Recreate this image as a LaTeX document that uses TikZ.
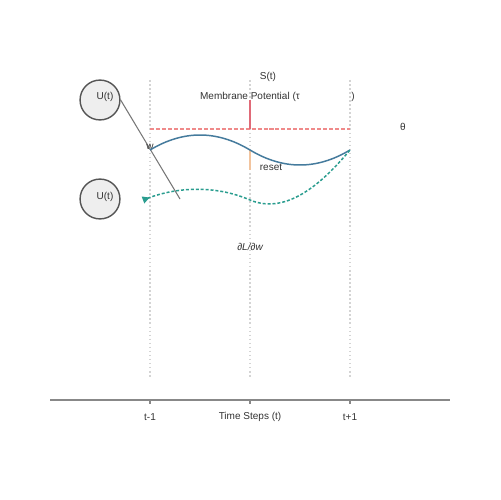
\documentclass[tikz,border=0pt]{standalone}
\usepackage{fontspec}
\setmainfont{Liberation Sans}
\usetikzlibrary{arrows.meta}
\definecolor{txt}{HTML}{333333}
\definecolor{axisgray}{HTML}{888888}
\definecolor{gridgray}{HTML}{D4D4D4}
\definecolor{potblue}{HTML}{457B9D}
\definecolor{gradteal}{HTML}{2A9D8F}
\definecolor{thred}{HTML}{EF8A8A}
\definecolor{spikered}{HTML}{E06A78}
\definecolor{resetor}{HTML}{F2C49E}
\definecolor{neuronfill}{HTML}{EEEEEE}
\definecolor{neuronline}{HTML}{555555}
\definecolor{wline}{HTML}{777777}
\tikzset{
  lbl/.style={text=txt, font=\fontsize{5.7}{6.8}\selectfont, inner sep=0pt},
  neuron/.style={circle, draw=neuronline, fill=neuronfill, line width=0.8pt, minimum size=22.7pt, inner sep=0pt},
  grid/.style={draw=gridgray, line width=0.6pt, dash pattern=on 0.9pt off 1.4pt},
}
\begin{document}
\begin{tikzpicture}[x=0.02cm, y=-0.02cm]
\useasboundingbox (0,0) rectangle (500,500);
\fill[white] (0,0) rectangle (500,500);
% vertical dotted time lines
\foreach \xx in {150,250,350} \draw[grid] (\xx,80) -- (\xx,378);
% axis
\coordinate (axl) at (50,400);
\coordinate (axr) at (450,400);
\draw[axisgray, line width=0.85pt] (axl) -- (axr);
\foreach \xx in {150,250,350} \draw[axisgray, line width=0.85pt] (\xx,400) -- (\xx,404);
\node[lbl] (tm1) at (150,417) {t-1};
\node[lbl] (tsteps) at (250,417) {Time Steps (t)};
\node[lbl] (tp1) at (350,417) {t+1};
% neurons
\node[neuron] (n1) at (100,100) {};
\node[neuron] (n2) at (100,199) {};
\node[lbl] at (105,97) {U(t)};
\node[lbl] at (105,197) {U(t)};
% weight line
\coordinate (wend) at (180,199);
\draw[wline, line width=0.6pt] (n1.east) -- (wend);
\node[lbl] (w) at (150,147) {w};
% threshold
\coordinate (th1) at (150,129);
\coordinate (th2) at (350,129);
\draw[thred, line width=0.85pt, dash pattern=on 2.3pt off 1.1pt] (th1) -- (th2);
\node[lbl] (theta) at (403,127) {θ};
% spike
\coordinate (sp1) at (250,100);
\coordinate (sp2) at (250,129);
\draw[spikered, line width=1.1pt] (sp1) -- (sp2);
\node[lbl] (st) at (268,77) {S(t)};
\node[lbl] (mp) at (250,97) {Membrane Potential (τ};
\node[lbl] (mpc) at (353,97) {)};
% reset
\coordinate (rs1) at (250,150);
\coordinate (rs2) at (250,170);
\draw[resetor, line width=1.1pt] (rs1) -- (rs2);
\node[lbl] (reset) at (271,167) {reset};
% membrane potential curve
\coordinate (p0) at (150,150);
\coordinate (p1) at (250,150);
\coordinate (p2) at (350,150);
\draw[potblue, line width=0.85pt] (p0) .. controls (183.3,130) and (216.7,130) .. (p1)
  .. controls (283.3,170) and (316.7,170) .. (p2);
% gradient curve
\coordinate (g0) at (143,200);
\coordinate (g1) at (250,200);
\draw[gradteal, line width=0.85pt, dash pattern=on 1.7pt off 1.1pt, {Triangle[reversed, length=4pt, width=4pt]}-]
  (g0) .. controls (180,186) and (218,186) .. (g1)
  .. controls (288,216) and (325,180) .. (p2);
\node[lbl] (grad) at (250,247) {\itshape ∂L/∂w};
\end{tikzpicture}
\end{document}
